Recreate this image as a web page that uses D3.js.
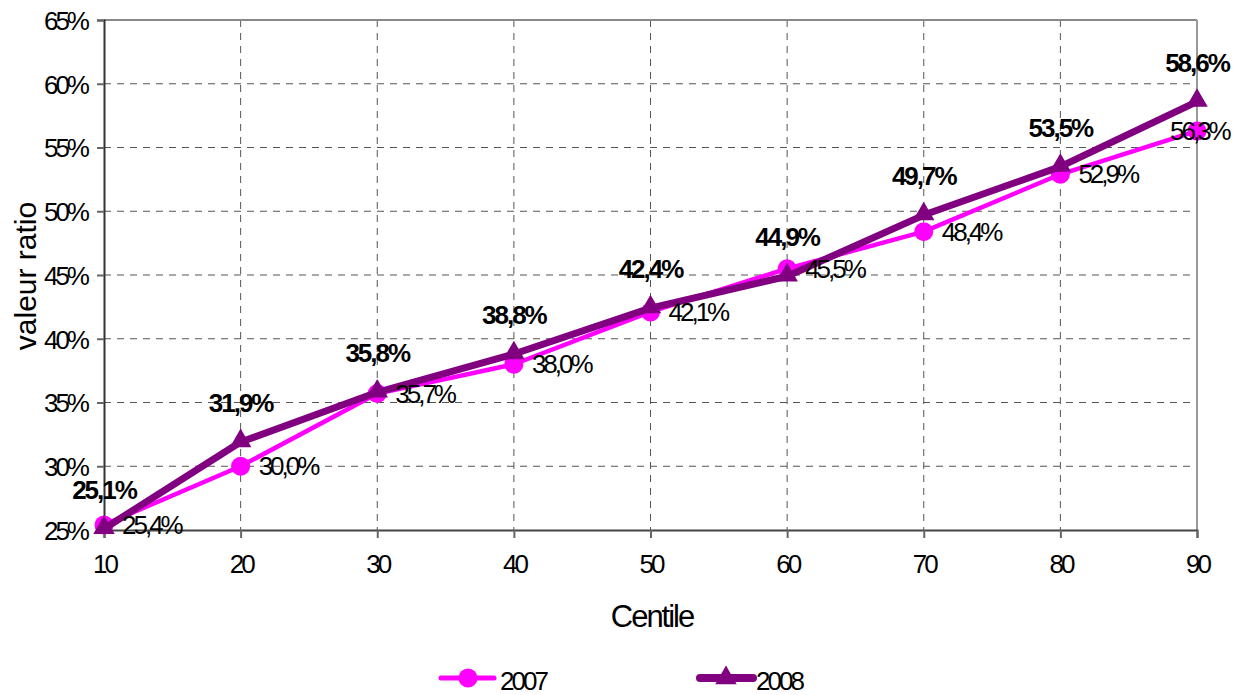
<!DOCTYPE html>
<html><head><meta charset="utf-8">
<script src="https://cdn.jsdelivr.net/npm/d3@7/dist/d3.min.js"></script>
<style>
body{margin:0;background:#fff;}
text{font-family:"Liberation Sans",Arial,sans-serif;}
</style></head>
<body><svg id="c" width="1248" height="695"></svg>
<script>
const centiles = [10,20,30,40,50,60,70,80,90];
const values2007 = [25.4,30.0,35.7,38.0,42.1,45.5,48.4,52.9,56.3];
const values2008 = [25.1,31.9,35.8,38.8,42.4,44.9,49.7,53.5,58.6];
const yTicks = [25,30,35,40,45,50,55,60,65];
const seriesNames = ["2007","2008"];

const svg = d3.select("#c");
const L=104, R=1197, T=20, B=530;
const x = d3.scaleLinear().domain([10,90]).range([L,R]);
const y = d3.scaleLinear().domain([25,65]).range([B,T]);
const fmt = v => v.toFixed(1).replace(".",",")+"%";

// grid
svg.append("g").selectAll("line").data(yTicks.slice(1,-1)).join("line")
  .attr("x1",L).attr("x2",R).attr("y1",d=>y(d)).attr("y2",d=>y(d))
  .attr("stroke","#555").attr("stroke-width",1).attr("stroke-dasharray","7,6");
svg.append("g").selectAll("line").data(centiles.slice(1,-1)).join("line")
  .attr("y1",T).attr("y2",B).attr("x1",d=>x(d)).attr("x2",d=>x(d))
  .attr("stroke","#555").attr("stroke-width",1).attr("stroke-dasharray","7,6");
// frame
svg.append("line").attr("x1",L).attr("x2",R).attr("y1",T).attr("y2",T).attr("stroke","#888").attr("stroke-width",2);
svg.append("line").attr("x1",R).attr("x2",R).attr("y1",T).attr("y2",B).attr("stroke","#999").attr("stroke-width",2);

// axes
const yAxis = svg.append("g").attr("transform",`translate(${L},0)`)
  .call(d3.axisLeft(y).tickValues(yTicks).tickSize(7).tickPadding(10).tickFormat(d=>d+"%"));
const xAxis = svg.append("g").attr("transform",`translate(0,${B})`)
  .call(d3.axisBottom(x).tickValues(centiles).tickSize(8).tickPadding(17));
[yAxis,xAxis].forEach(a=>{
  a.select(".domain").attr("stroke","#333").attr("stroke-width",2);
  a.selectAll(".tick line").attr("stroke","#666").attr("stroke-width",2);
  a.selectAll("text").attr("font-size",26).attr("letter-spacing",-3).attr("fill","#000")
   .attr("font-family","'Liberation Sans',Arial,sans-serif");
});
yAxis.selectAll("text").attr("dy","0.36em");
xAxis.select(".domain").attr("stroke","#444");

// titles
svg.append("text").attr("x",652).attr("y",627).attr("text-anchor","middle")
  .attr("font-size",31).attr("letter-spacing",-2).text("Centile");
svg.append("text").attr("transform","translate(36,276) rotate(-90)").attr("text-anchor","middle")
  .attr("font-size",30).attr("letter-spacing",0).text("valeur ratio");

// lines
const lineGen = d3.line().x((d,i)=>x(centiles[i])).y(d=>y(d));
svg.append("path").datum(values2007).attr("d",lineGen).attr("fill","none")
  .attr("stroke","#FF00FF").attr("stroke-width",4.5).attr("stroke-linejoin","round");
svg.append("g").selectAll("circle").data(values2007).join("circle")
  .attr("cx",(d,i)=>x(centiles[i])).attr("cy",d=>y(d)).attr("r",9.5).attr("fill","#FF00FF");
svg.append("path").datum(values2008).attr("d",lineGen).attr("fill","none")
  .attr("stroke","#800080").attr("stroke-width",7).attr("stroke-linejoin","round");
const tri = d3.symbol().type(d3.symbolTriangle).size(200);
svg.append("g").selectAll("path").data(values2008).join("path")
  .attr("d",tri).attr("transform",(d,i)=>`translate(${x(centiles[i])},${y(d)-1})`).attr("fill","#800080");

// labels
svg.append("g").selectAll("text").data(values2007).join("text")
  .attr("x",(d,i)=> i===centiles.length-1 ? x(centiles[i])-27 : x(centiles[i])+18)
  .attr("y",d=>y(d)+9).attr("font-size",26).attr("letter-spacing",-3).text(fmt);
svg.append("g").selectAll("text").data(values2008).join("text")
  .attr("x",(d,i)=>x(centiles[i])).attr("y",d=>y(d)-30).attr("text-anchor","middle")
  .attr("font-size",26).attr("font-weight","bold").attr("letter-spacing",-2).text(fmt);

// legend
const lg = svg.append("g");
lg.append("line").attr("x1",441).attr("x2",494).attr("y1",678).attr("y2",678).attr("stroke","#FF00FF").attr("stroke-width",5).attr("stroke-linecap","round");
lg.append("circle").attr("cx",468).attr("cy",678).attr("r",9.5).attr("fill","#FF00FF");
lg.append("text").attr("x",500).attr("y",690).attr("font-size",26).attr("letter-spacing",-3).text(seriesNames[0]);
lg.append("line").attr("x1",700).attr("x2",753).attr("y1",678).attr("y2",678).attr("stroke","#800080").attr("stroke-width",8).attr("stroke-linecap","round");
lg.append("path").attr("d",tri).attr("transform","translate(726,678)").attr("fill","#800080");
lg.append("text").attr("x",756).attr("y",690).attr("font-size",26).attr("letter-spacing",-3).text(seriesNames[1]);
</script></body></html>
